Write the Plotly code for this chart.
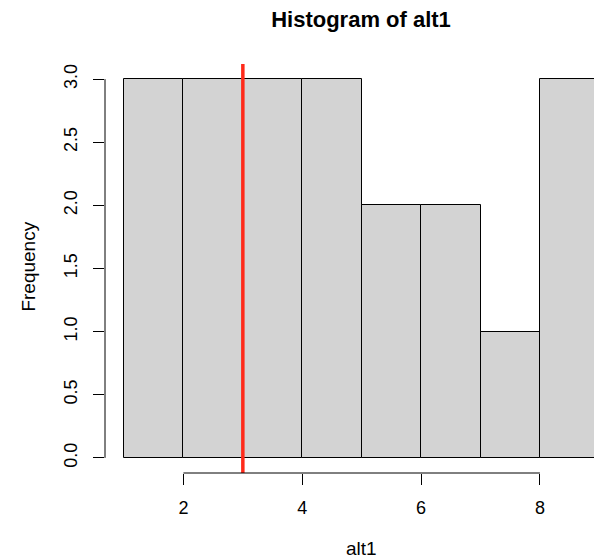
import plotly.graph_objects as go

bin_left = [1, 2, 3, 4, 5, 6, 7, 8]
counts = [3, 3, 3, 3, 2, 2, 1, 3]
bin_width = 1
vline_x = 3
x_ticks = [2, 4, 6, 8]
y_ticks = [0, 0.5, 1.0, 1.5, 2.0, 2.5, 3.0]
y_tick_labels = ["0.0", "0.5", "1.0", "1.5", "2.0", "2.5", "3.0"]

FONT = "Liberation Sans, Arial, sans-serif"
W, H = 594, 560
L, T, B = 104.5, 64, 560 - 473
PW, PH = W - L, H - T - B

fig = go.Figure()
fig.add_trace(go.Bar(
    x=[b + bin_width / 2 for b in bin_left],
    y=counts,
    width=[bin_width] * len(bin_left),
    marker=dict(color="#D3D3D3", line=dict(color="black", width=1)),
    showlegend=False,
    hoverinfo="skip",
))

fig.add_shape(type="line", xref="x", yref="paper", x0=vline_x, x1=vline_x,
              y0=0, y1=1, line=dict(color="#FF2A1A", width=3.5), layer="above")
fig.add_shape(type="line", xref="x", yref="paper", x0=min(x_ticks), x1=max(x_ticks),
              y0=0, y1=0, line=dict(color="black", width=1))
fig.add_shape(type="line", xref="paper", yref="y", x0=0, x1=0,
              y0=min(y_ticks), y1=max(y_ticks), line=dict(color="black", width=1))

fig.update_layout(
    width=W, height=H,
    margin=dict(l=L, r=0, t=T, b=B, pad=0),
    plot_bgcolor="white", paper_bgcolor="white",
    bargap=0,
    font=dict(family=FONT, size=18, color="black"),
    title=dict(text="<b>Histogram of alt1</b>", x=361 / W, xanchor="center",
               y=1 - 19 / H, yanchor="middle", font=dict(size=22, family=FONT)),
    xaxis=dict(range=[0.68, 8.91], tickvals=x_ticks, ticks="outside", ticklen=11,
               tickcolor="black", showline=False, showgrid=False, zeroline=False,
               ticklabelstandoff=7, tickfont=dict(size=18)),
    yaxis=dict(range=[-0.12, 3.12], tickvals=y_ticks, ticktext=y_tick_labels,
               ticks="outside", ticklen=11, tickcolor="black", tickangle=-90,
               showline=False, showgrid=False, zeroline=False, ticklabelstandoff=9,
               tickfont=dict(size=18)),
    annotations=[
        dict(text="alt1", xref="paper", yref="paper", x=(361 - L) / PW, y=(473 - 548) / PH,
             xanchor="center", yanchor="middle", showarrow=False, font=dict(size=19)),
        dict(text="Frequency", xref="paper", yref="paper", x=(27 - L) / PW, y=(473 - 267) / PH,
             xanchor="center", yanchor="middle", showarrow=False, textangle=-90, font=dict(size=19)),
    ],
)

fig.write_html("out.html", config={"displayModeBar": False},
               post_script="document.body.style.margin='0';")
